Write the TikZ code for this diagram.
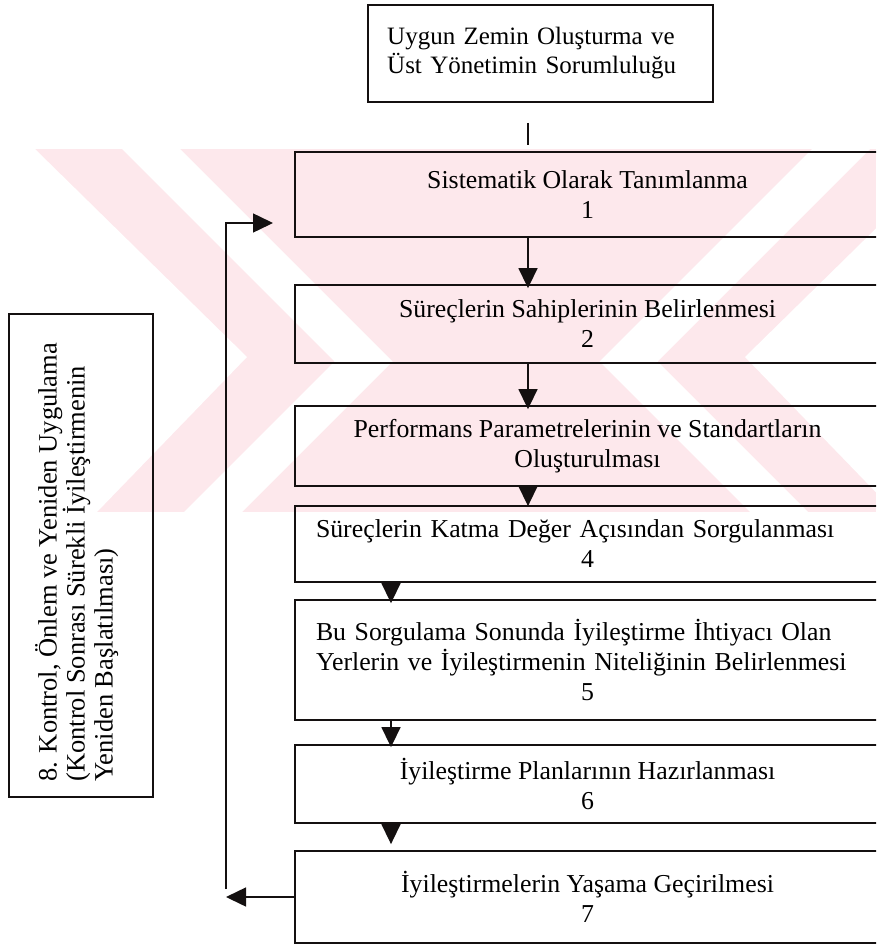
\documentclass[tikz,border=0pt]{standalone}
\usepackage{fontspec}
\setmainfont{Liberation Serif}
\usetikzlibrary{arrows.meta}
\definecolor{ink}{HTML}{141010}
\definecolor{wmpink}{HTML}{FDE8EC}
\begin{document}
\begin{tikzpicture}[x=1pt,y=-1pt,
  txt/.style={font=\fontsize{25.8}{30}\selectfont},
  box/.style={txt, draw=ink, line width=1.8pt, inner sep=0pt},
  stage/.style={box, minimum width=585pt},
  link/.style={draw=ink, line width=1.5pt},
  flow/.style={link, -{Triangle[length=20pt,width=19pt]}},
]
\useasboundingbox (0,0) rectangle (876,944);
\clip (0,0) rectangle (876,944);

% faint background emblem: a band of diagonal stripes
\fill[wmpink] (0,149) rectangle (876,512);
\fill[white] (0,149) -- (35,149) -- (247,357) -- (97,512) -- (0,512) -- cycle;
\fill[white] (122,149) -- (180,149) -- (392.5,361.5) -- (242,512) -- (184,512) -- (334.5,361.5) -- cycle;
\fill[white] (870,149) -- (812,149) -- (599.5,361.5) -- (750,512) -- (808,512) -- (657.5,361.5) -- cycle;
\fill[white] (957,149) -- (745,357) -- (895,512) -- cycle;

% starting condition
\node[box, font=\fontsize{25}{29}\selectfont, minimum width=345pt, minimum height=97pt,
  text width=306pt, align=left]
  (top) at (540.2,53.5) {Uygun Zemin Oluşturma ve\\Üst Yönetimin Sorumluluğu};

% the seven stages
\node[stage, minimum height=85pt, align=center] (b1) at (587.5,194.5)
  {Sistematik Olarak Tanımlanma\\1};
\node[stage, minimum height=78pt, align=center] (b2) at (587.5,324)
  {Süreçlerin Sahiplerinin Belirlenmesi\\2};
\node[stage, minimum height=80pt, align=center] (b3) at (587.5,446)
  {Performans Parametrelerinin ve Standartların\\Oluşturulması};
\node[stage, minimum height=76pt, text width=543pt, align=left] (b4) at (587.5,544)
  {Süreçlerin Katma Değer Açısından Sorgulanması\\\makebox[543pt]{4}};
\node[stage, minimum height=120pt, text width=543pt, align=left] (b5) at (587.5,660)
  {Bu Sorgulama Sonunda İyileştirme İhtiyacı Olan\\Yerlerin ve İyileştirmenin Niteliğinin Belirlenmesi\\\makebox[543pt]{5}};
\node[stage, minimum height=78pt, align=center] (b6) at (587.5,784)
  {İyileştirme Planlarının Hazırlanması\\6};
\node[stage, minimum height=92pt, align=center] (b7) at (587.5,897)
  {İyileştirmelerin Yaşama Geçirilmesi\\7};

% step 8, written sideways
\node[box, minimum width=144pt, minimum height=483pt] (lb) at (81,555.5) {};
\node[font=\fontsize{26.5}{28}\selectfont, rotate=90, anchor=north west, align=left, inner sep=0pt]
  (lbt) at (35,782)
  {8. Kontrol, Önlem ve Yeniden Uygulama\\(Kontrol Sonrası Sürekli İyileştirmenin\\Yeniden Başlatılması)};

% arrow columns
\coordinate (colA) at (528,0);
\coordinate (colB) at (391,0);

% short stroke under the starting box
\coordinate (tickA) at (528,123);
\coordinate (tickB) at (528,145);
\draw[link] (tickA) -- (tickB);

\draw[flow] (b1.south -| colA) -- ([yshift=-4pt]b2.north -| colA);
\draw[flow] (b2.south -| colA) -- ([yshift=-4pt]b3.north -| colA);
\draw[flow] (b3.south -| colA) -- ([yshift=-1pt]b4.north -| colA);
\draw[flow] (b4.south -| colB) -- ([yshift=-4pt]b5.north -| colB);
\draw[flow] (b5.south -| colB) -- ([yshift=-3pt]b6.north -| colB);
\draw[flow] (b6.south -| colB) -- ([yshift=6pt]b7.north -| colB);

% feedback loop back to stage 1
\coordinate (fbBot) at (226,889);
\coordinate (fbTop) at (226,223);
\coordinate (fbTip) at (273,223);
\draw[flow] (b7.west) -- (b7.west -| fbBot);
\draw[flow] (fbBot) -- (fbTop) -- (fbTip);
\end{tikzpicture}
\end{document}
